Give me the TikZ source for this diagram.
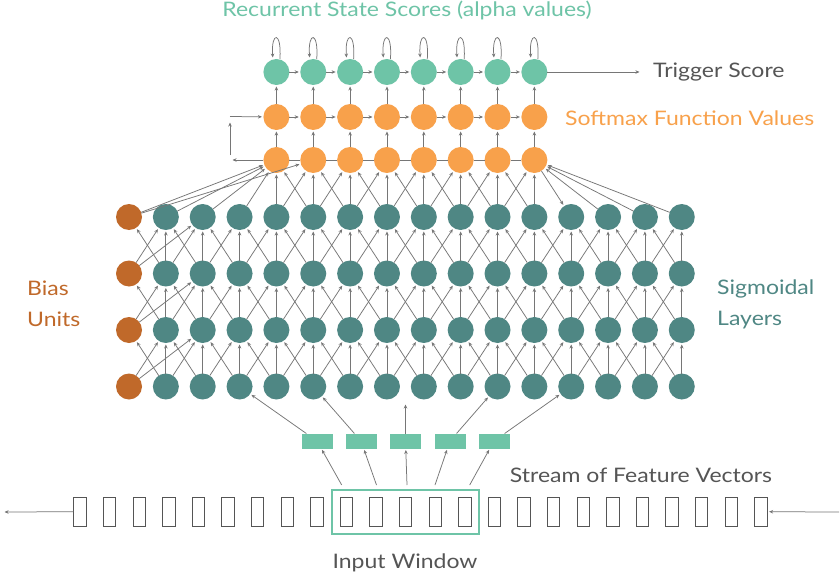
\documentclass[tikz,border=0pt]{standalone}
\usepackage{fontspec}
\setmainfont{Lato}[FakeStretch=1.15]
\usetikzlibrary{arrows.meta}
\definecolor{mint}{HTML}{6EC4A7}
\definecolor{orng}{HTML}{F8A14B}
\definecolor{dteal}{HTML}{4F8784}
\definecolor{biasbr}{HTML}{C0692A}
\definecolor{arr}{HTML}{767676}
\definecolor{txt}{HTML}{555555}
\begin{document}
\begin{tikzpicture}[x=1pt,y=-1pt,
  circ/.style={circle, minimum size=26pt, inner sep=0pt, outer sep=0pt},
  mintc/.style={circ, fill=mint},
  orngc/.style={circ, fill=orng},
  sigc/.style={circ, fill=dteal},
  biasc/.style={circ, fill=biasbr},
  con/.style={draw=arr, line width=0.75pt, -{Stealth[length=4pt,width=3.5pt]}, shorten >=1.5pt},
  plain/.style={draw=arr, line width=0.75pt},
  feat/.style={fill=mint, minimum width=31pt, minimum height=15pt, inner sep=0pt, outer sep=0pt},
  cell/.style={draw=txt, line width=1pt, minimum width=12.4pt, minimum height=29pt, inner sep=0pt},
  lbl/.style={font=\fontsize{20}{31}\selectfont, inner sep=0pt}]
\useasboundingbox[fill=white] (0,0) rectangle (840,575);

% sigmoid layers
\foreach \r/\yy in {1/217,2/273.5,3/330,4/386.5} {
  \node[biasc] (s-\r-0) at (129,\yy) {};
  \foreach \j in {1,...,15} \node[sigc] (s-\r-\j) at ({129+36.85*\j},\yy) {};
}
% top rows
\foreach \j in {4,...,11} {
  \node[mintc] (t-\j) at ({129+36.85*\j},72) {};
  \node[orngc] (p-\j) at ({129+36.85*\j},117) {};
  \node[orngc] (q-\j) at ({129+36.85*\j},160) {};
}

% self loops, horizontals, verticals
\foreach \j in {4,...,11} {
  \draw[con] ([xshift=3.5pt]t-\j.north) .. controls +(2,-28) and +(-2,-28) .. ([xshift=-3.5pt]t-\j.north);
  \draw[con] (q-\j) -- (p-\j);
  \draw[con] (p-\j) -- (t-\j);
}
\foreach \j in {4,...,10} {
  \pgfmathtruncatemacro{\k}{\j+1}
  \draw[con] (t-\j) -- (t-\k);
  \draw[con] (p-\j) -- (p-\k);
  \draw[plain] (q-\j) -- (q-\k);
}
\coordinate (la) at (231,160);
\coordinate (lb) at (230,155);
\coordinate (lc) at (230,121);
\coordinate (ld) at (230,116.5);
\draw[con] (q-4) -- (la);
\draw[con] (lb) -- (lc);
\draw[con] (ld) -- (p-4);
\coordinate (tr) at (641,72);
\draw[con] (t-11) -- (tr);

% sigmoid connections
\foreach \r in {1,2,3} {
  \pgfmathtruncatemacro{\rr}{\r+1}
  \foreach \j in {0,...,14} {
    \pgfmathtruncatemacro{\k}{\j+1}
    \draw[con] (s-\rr-\j) -- (s-\r-\k);
    \draw[con] (s-\rr-\k) -- (s-\r-\j);
    \draw[con] (s-\rr-\k) -- (s-\r-\k);
  }
  \draw[con] (s-\rr-0) -- (s-\r-2);
}
% into softmax
\foreach \j in {4,...,11} {
  \pgfmathtruncatemacro{\a}{\j-1}
  \pgfmathtruncatemacro{\b}{\j+1}
  \draw[con] (s-1-\j) -- (q-\j);
  \draw[con] (s-1-\a) -- (q-\j);
  \ifnum\j<11 \draw[con] (s-1-\b) -- (q-\j); \fi
}
\draw[con] (q-11) -- (s-1-12);
\draw[con] (s-1-0) -- (q-4);
\draw[con] (s-1-1) -- (q-4);
\draw[con] (s-1-2) -- (q-4);
\draw[con] (s-1-0) -- (q-5);
\draw[con] (s-1-13) -- (q-11);
\draw[con] (s-1-14) -- (q-11);
\draw[con] (s-1-15) -- (q-11);

% feature vectors
\foreach \i/\xx in {1/317,2/361,3/405.5,4/450,5/494}
  \node[feat] (f-\i) at (\xx,441) {};
\coordinate (gap) at (405.5,403);
\draw[con] (f-1) -- (s-4-3);
\draw[con] (f-2) -- (s-4-5);
\draw[con] (f-3) -- (gap);
\draw[con] (f-4) -- (s-4-10);
\draw[con] (f-5) -- (s-4-12);

% tape
\foreach \i in {0,...,23}
  \node[cell] (c-\i) at ({80.1+29.6*\i},511.7) {};
\node[draw=mint, line width=1.1pt, minimum width=147pt, minimum height=44pt, inner sep=0pt] (win) at (405.5,512) {};
\foreach \i/\xa in {1/341.7,2/376.5,3/407,4/435,5/469.7} {
  \coordinate (w-\i) at (\xa,485);
  \draw[con] (w-\i) -- (f-\i);
}
\coordinate (lend) at (3,512);
\coordinate (rbeg) at (839,512);
\draw[con] (c-0) -- (lend);
\draw[con] (rbeg) -- (c-23);

% labels
\node[lbl, text=mint] (title) at (407,10) {Recurrent State Scores (alpha values)};
\node[lbl, text=txt, anchor=west] (trig) at (653,72) {Trigger Score};
\node[lbl, text=orng, anchor=west] (soft) at (565,118) {Softmax Function Values};
\node[lbl, text=dteal, align=left, anchor=west] (sig) at (717,304) {Sigmoidal\\Layers};
\node[lbl, text=biasbr, align=left, anchor=west] (biasl) at (27,304) {Bias\\Units};
\node[lbl, text=txt] (stream) at (641,475) {Stream of Feature Vectors};
\node[lbl, text=txt] (inw) at (405,563) {Input Window};
\end{tikzpicture}
\end{document}
